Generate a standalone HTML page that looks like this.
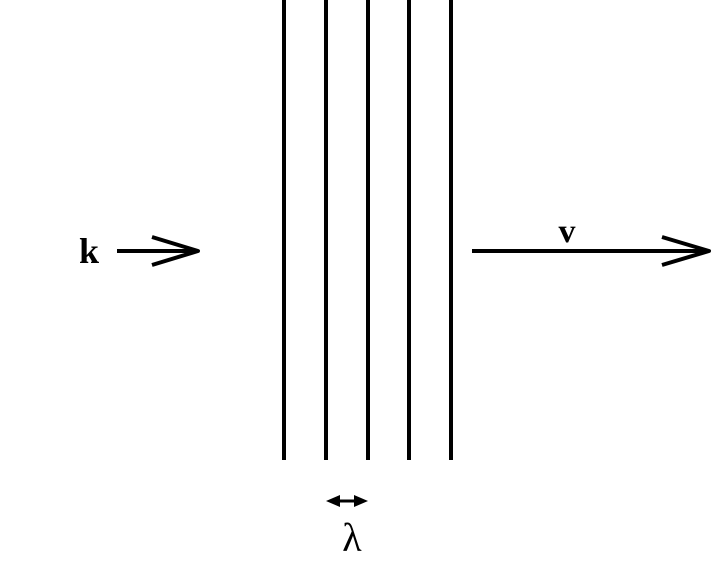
<!DOCTYPE html>
<html><head><style>body{margin:0;background:#fff}</style></head><body>
<svg width="727" height="557" xmlns="http://www.w3.org/2000/svg">
<g stroke="#000" stroke-width="4" fill="none" stroke-linejoin="round">
<line x1="284" y1="0" x2="284" y2="460"/>
<line x1="326" y1="0" x2="326" y2="460"/>
<line x1="368" y1="0" x2="368" y2="460"/>
<line x1="409" y1="0" x2="409" y2="460"/>
<line x1="451" y1="0" x2="451" y2="460"/>
<line x1="117" y1="251" x2="198" y2="251"/>
<polyline points="152,237 198,251 152,265"/>
<line x1="472" y1="251" x2="709" y2="251"/>
<polyline points="662,237 709,251 662,265"/>
<line x1="334" y1="501" x2="360" y2="501" stroke-width="3"/>
</g>
<polygon points="326,501 340,495 340,507" fill="#000"/>
<polygon points="368,501 354,495 354,507" fill="#000"/>
<text x="89" y="263" font-family="Liberation Serif, serif" font-weight="bold" font-size="36" text-anchor="middle">k</text>
<text x="567" y="242" font-family="Liberation Serif, serif" font-weight="bold" font-size="34" text-anchor="middle">v</text>
<text x="352" y="551" font-family="Liberation Serif, serif" font-size="40" text-anchor="middle">λ</text>
</svg>
</body></html>
